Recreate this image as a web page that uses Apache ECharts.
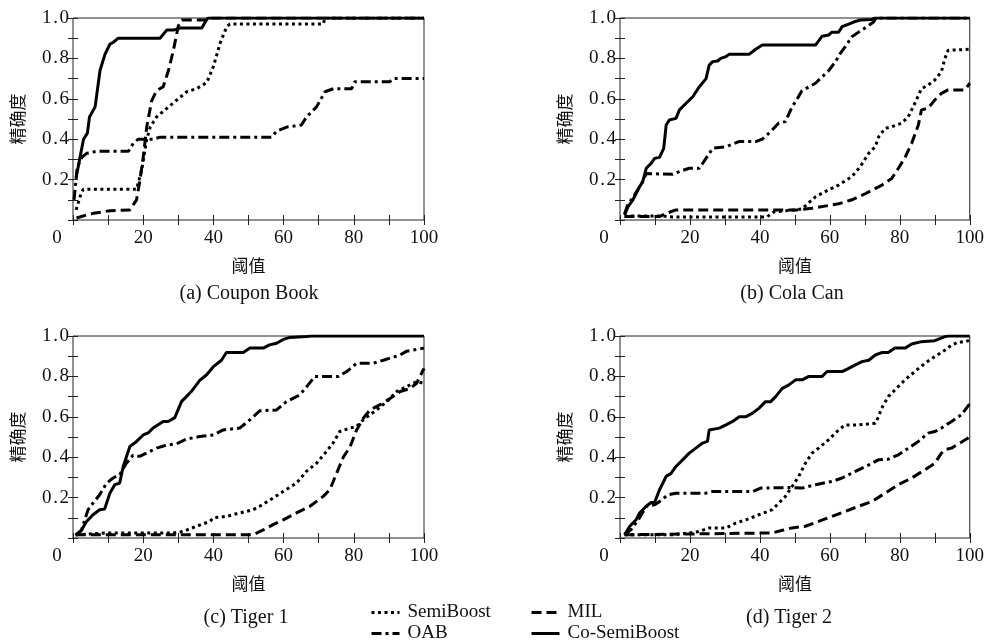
<!DOCTYPE html>
<html><head><meta charset="utf-8">
<script src="https://cdn.jsdelivr.net/npm/echarts@6/dist/echarts.min.js"></script>
<style>html,body{margin:0;padding:0;background:#fff}#c{width:987px;height:641px}</style>
</head><body><div id="c"></div>
<script>
// ---- text ----
const panelTitles = ['(a) Coupon Book', '(b) Cola Can', '(c) Tiger 1', '(d) Tiger 2'];
const seriesNames = ['SemiBoost', 'OAB', 'MIL', 'Co-SemiBoost'];
const xName = '阈值';
const yName = '精确度';
const xLabelValues = [0, 20, 40, 60, 80, 100];
const yLabelValues = [0.2, 0.4, 0.6, 0.8, 1.0];

// ---- data: [threshold, precision] ----
const couponSemi = [[0.9,0.05],[2,0.115],[2.9,0.152],[18.1,0.152],[19.6,0.25],[21,0.40],[22,0.46],[23.8,0.51],[28.6,0.58],[32.4,0.635],[35.2,0.65],[38.1,0.68],[40,0.76],[41.9,0.875],[43.8,0.957],[44.7,0.97],[71.3,0.97],[71.8,1.0],[100,1.0]];
const couponOAB = [[0.3,0.1],[1.2,0.26],[2.5,0.31],[3.9,0.33],[6.7,0.34],[15.8,0.34],[17.2,0.38],[18.6,0.40],[22.9,0.40],[24.8,0.41],[56.6,0.41],[58,0.44],[60.9,0.46],[65.1,0.47],[66.5,0.51],[69.4,0.56],[71.8,0.635],[74.2,0.65],[79.4,0.65],[80.3,0.685],[90.3,0.685],[91.3,0.70],[100,0.70]];
const couponMIL = [[1,0.01],[3.9,0.025],[5.8,0.033],[10.5,0.046],[16.2,0.05],[18.1,0.1],[19.1,0.2],[20,0.31],[21,0.46],[22.4,0.59],[23.8,0.64],[25.7,0.66],[27.2,0.74],[28.6,0.84],[30,0.96],[31,0.99],[38,0.99],[39,1.0],[100,1.0]];
const couponCo = [[0.9,0.21],[2,0.31],[3,0.40],[4.1,0.43],[4.7,0.51],[6.3,0.56],[7.7,0.74],[9.1,0.82],[10.5,0.87],[11.5,0.88],[12.9,0.90],[24.8,0.90],[26.7,0.94],[28.6,0.94],[30.5,0.95],[36.7,0.95],[38,0.99],[38.5,1.0],[100,1.0]];

const colaSemi = [[1.3,0.02],[12,0.02],[15,0.015],[42,0.015],[44,0.04],[50,0.05],[52,0.055],[55.9,0.115],[59.7,0.15],[62.5,0.173],[66.3,0.215],[68.7,0.264],[71.1,0.33],[73,0.363],[73.9,0.41],[75.8,0.454],[77.7,0.462],[80.5,0.479],[82.4,0.51],[84.3,0.578],[86.2,0.65],[88.1,0.668],[90,0.693],[91.9,0.734],[92.9,0.80],[93.8,0.84],[100,0.845]];
const colaOAB = [[1.3,0.03],[2.3,0.08],[3.7,0.11],[5.6,0.165],[6.5,0.19],[7.5,0.23],[15.1,0.226],[17,0.24],[19.8,0.256],[22.7,0.256],[26.5,0.355],[30.3,0.363],[34,0.388],[38.8,0.388],[40.7,0.40],[43.5,0.445],[45.4,0.48],[47.3,0.487],[49.2,0.56],[50.7,0.60],[52,0.64],[55.9,0.677],[57.3,0.70],[59.7,0.74],[61.6,0.784],[63,0.825],[64.4,0.858],[66.3,0.907],[68.2,0.93],[70.6,0.957],[72.5,0.98],[73.2,1.0],[100,1.0]];
const colaMIL = [[1.3,0.017],[11.3,0.017],[13.2,0.033],[16,0.05],[51.1,0.05],[54.9,0.058],[62.5,0.08],[66.3,0.1],[70.1,0.13],[74.9,0.173],[77.7,0.206],[79.6,0.256],[81.5,0.31],[83.4,0.38],[85.3,0.47],[86.2,0.545],[88.1,0.553],[90,0.594],[91.9,0.627],[93.8,0.644],[98.6,0.644],[100,0.677]];
const colaCo = [[1.3,0.025],[2.3,0.066],[3.7,0.1],[5.6,0.165],[6.5,0.19],[7.5,0.256],[8.9,0.28],[9.9,0.305],[11.3,0.31],[12.5,0.355],[13.2,0.47],[14.1,0.495],[16,0.503],[17,0.545],[18.9,0.578],[20.8,0.61],[22.7,0.66],[24.6,0.70],[25.5,0.767],[26.5,0.784],[27.9,0.787],[28.8,0.80],[30.3,0.809],[31.2,0.82],[36.9,0.82],[38.8,0.845],[40.7,0.866],[55.9,0.866],[57.8,0.91],[59.7,0.916],[60.6,0.93],[62.5,0.93],[63.5,0.957],[65.4,0.97],[66.8,0.98],[68.7,0.99],[72,0.993],[73,1.0],[100,1.0]];

const tiger1Semi = [[0.8,0.016],[9.5,0.025],[28.5,0.025],[31.4,0.033],[35.2,0.058],[39,0.082],[40,0.1],[43.7,0.107],[47.5,0.124],[51.3,0.14],[53.2,0.157],[57,0.198],[60.8,0.24],[63.7,0.272],[66.5,0.33],[69.4,0.37],[72.2,0.428],[74.1,0.47],[76,0.527],[78.9,0.544],[80.8,0.552],[82.7,0.585],[84.6,0.61],[86.5,0.634],[89.4,0.675],[92.2,0.725],[95.1,0.75],[97.9,0.774],[100,0.766]];
const tiger1OAB = [[0.8,0.016],[2.4,0.038],[4.3,0.14],[5.7,0.173],[7.6,0.214],[9.5,0.27],[11.4,0.297],[13.3,0.313],[15.2,0.37],[17.1,0.41],[19,0.404],[20.9,0.42],[23.8,0.445],[26.6,0.46],[29.5,0.466],[32.3,0.49],[36.1,0.502],[40,0.51],[42.8,0.535],[47.5,0.544],[50.4,0.585],[53.2,0.63],[58,0.634],[60.8,0.675],[64.6,0.708],[67,0.758],[68.9,0.80],[75.6,0.80],[78,0.824],[80.8,0.865],[85.6,0.865],[88.4,0.88],[93.2,0.906],[95.1,0.925],[100,0.94]];
const tiger1MIL = [[0.8,0.016],[51.3,0.016],[54.2,0.04],[57,0.066],[59.9,0.09],[63.7,0.124],[67.5,0.157],[71.3,0.206],[73.2,0.24],[75.1,0.32],[77,0.40],[78.9,0.45],[80.8,0.535],[82.7,0.593],[84.6,0.634],[87.5,0.66],[90.3,0.69],[93.2,0.725],[96,0.74],[97.9,0.766],[100,0.84]];
const tiger1Co = [[0.8,0.012],[2.4,0.038],[3.8,0.08],[5.7,0.115],[7.6,0.14],[9,0.143],[10.5,0.222],[11.9,0.264],[13.3,0.272],[14.3,0.354],[16.2,0.453],[18.1,0.478],[20,0.51],[21.4,0.52],[22.8,0.544],[25.7,0.577],[27.1,0.577],[29,0.596],[30.9,0.675],[32.3,0.70],[33.7,0.725],[36.1,0.78],[38,0.807],[40,0.848],[42.3,0.88],[43.7,0.918],[48.5,0.918],[50.4,0.94],[54.2,0.94],[56,0.956],[58,0.964],[59.9,0.983],[61.8,0.993],[66.5,0.997],[68,1.0],[100,1.0]];

const tiger2Semi = [[1.3,0.016],[15.1,0.016],[19.8,0.025],[22.7,0.033],[25.5,0.05],[30.3,0.05],[33.1,0.074],[36,0.09],[39.7,0.115],[43.5,0.14],[45.4,0.173],[47.3,0.206],[49.2,0.255],[51.1,0.305],[53,0.37],[54.9,0.42],[56.8,0.445],[59.6,0.486],[62.5,0.535],[64.4,0.56],[68.2,0.56],[73,0.568],[73.9,0.60],[74.8,0.642],[76.7,0.70],[78.6,0.733],[81.5,0.783],[84.3,0.824],[87.2,0.865],[90,0.898],[92.9,0.93],[94.8,0.955],[96.7,0.97],[98.6,0.97],[100,0.98]];
const tiger2OAB = [[1.3,0.016],[3.1,0.04],[5.6,0.1],[7.5,0.157],[9.9,0.165],[11.3,0.18],[13.7,0.214],[16,0.222],[24.6,0.222],[26.5,0.23],[37.9,0.23],[40.2,0.247],[49.2,0.25],[52.1,0.247],[55.9,0.264],[60.6,0.28],[63.5,0.297],[67.3,0.33],[71.1,0.362],[73.9,0.387],[76.7,0.39],[79.6,0.412],[82.5,0.445],[85.3,0.478],[88.1,0.519],[90,0.527],[91.9,0.544],[94.8,0.577],[97.6,0.61],[100,0.665]];
const tiger2MIL = [[1.3,0.016],[43.5,0.025],[46.4,0.038],[49.2,0.05],[53,0.058],[56.8,0.082],[60.6,0.107],[64.4,0.132],[68.2,0.157],[72,0.18],[75.8,0.222],[79.6,0.264],[83.4,0.297],[87.2,0.338],[90,0.37],[91.9,0.42],[92.9,0.437],[94.8,0.445],[97.2,0.47],[100,0.5]];
const tiger2Co = [[1.3,0.016],[2.8,0.058],[4.6,0.09],[5.6,0.124],[7.5,0.157],[8.9,0.176],[9.9,0.176],[11.3,0.239],[13.2,0.305],[14.6,0.32],[16,0.354],[17.9,0.387],[19.8,0.42],[21.7,0.445],[23.6,0.47],[25,0.478],[25.5,0.535],[28.4,0.544],[30.3,0.56],[32.2,0.577],[34.1,0.60],[36,0.60],[37.9,0.618],[39.7,0.642],[41.6,0.675],[43.1,0.675],[44.5,0.70],[46.4,0.741],[48.3,0.758],[50.2,0.783],[52.1,0.783],[54,0.80],[57.8,0.80],[59.2,0.824],[63.5,0.824],[65.4,0.84],[67.3,0.857],[69.2,0.873],[71.1,0.88],[73,0.906],[74.8,0.918],[76.7,0.918],[78.6,0.94],[81.5,0.94],[83.4,0.96],[86.2,0.972],[90,0.977],[92.9,0.997],[93.8,1.0],[100,1.0]];

const panelData = [
  [couponSemi, couponOAB, couponMIL, couponCo],
  [colaSemi, colaOAB, colaMIL, colaCo],
  [tiger1Semi, tiger1OAB, tiger1MIL, tiger1Co],
  [tiger2Semi, tiger2OAB, tiger2MIL, tiger2Co]
];

// ---- styling / layout ----
const SERIF = '"Liberation Serif", "DejaVu Serif", serif';
const CJK = '"Noto Sans CJK SC", sans-serif';
const lineTypes = [[3, 3.5], [10, 4, 3, 4], [10, 5], 'solid'];
const grids = [
  {left: 73, top: 18, width: 351, height: 202},
  {left: 620, top: 18, width: 352, height: 202},
  {left: 73, top: 336, width: 351, height: 202},
  {left: 620, top: 336, width: 352, height: 202}
];
const titlePos = [[249, 294], [792, 294], [246, 618], [789, 618]];

const chart = echarts.init(document.getElementById('c'), null, {renderer: 'canvas'});
const option = {
  animation: false,
  backgroundColor: '#fff',
  grid: grids.map(g => Object.assign({show: true, borderColor: '#222', borderWidth: 1, backgroundColor: 'transparent'}, g)),
  xAxis: [], yAxis: [], series: [], legend: [], graphic: []
};
const tickStyle = {show: true, inside: true, length: 5, lineStyle: {color: '#222', width: 1}};
const HAIR = '\u200A';
grids.forEach((g, i) => {
  option.xAxis.push({
    type: 'value', gridIndex: i, min: 0, max: 100, interval: 10, position: 'bottom',
    axisLine: {show: false}, splitLine: {show: false}, axisTick: tickStyle,
    name: xName, nameLocation: 'middle', nameGap: 37,
    nameTextStyle: {fontFamily: CJK, fontSize: 17, color: '#111'},
    axisLabel: {
      margin: 9, fontFamily: SERIF, fontSize: 19, color: '#111',
      formatter: v => v === 0 ? '{z|0}' : (xLabelValues.indexOf(v) >= 0 ? String(v) : ''),
      rich: {z: {fontFamily: SERIF, fontSize: 19, color: '#111', padding: [0, 32, 0, 0]}}
    }
  });
  option.xAxis.push({
    type: 'value', gridIndex: i, min: 0, max: 100, interval: 10, position: 'top',
    axisLine: {show: false}, splitLine: {show: false}, axisTick: tickStyle, axisLabel: {show: false}
  });
  option.yAxis.push({
    type: 'value', gridIndex: i, min: 0, max: 1, interval: 0.1, position: 'left',
    axisLine: {show: false}, splitLine: {show: false}, axisTick: tickStyle,
    name: yName, nameLocation: 'middle', nameGap: 47, nameRotate: 90,
    nameTextStyle: {fontFamily: CJK, fontSize: 17, color: '#111'},
    axisLabel: {
      margin: 4, fontFamily: SERIF, fontSize: 19, color: '#111',
      formatter: v => {
        const m = yLabelValues.find(t => Math.abs(t - v) < 1e-6);
        return m !== undefined ? m.toFixed(1).replace('.', HAIR + '.' + HAIR) : '';
      }
    }
  });
  option.yAxis.push({
    type: 'value', gridIndex: i, min: 0, max: 1, interval: 0.1, position: 'right',
    axisLine: {show: false}, splitLine: {show: false}, axisTick: tickStyle, axisLabel: {show: false}
  });
  panelData[i].forEach((d, k) => {
    option.series.push({
      type: 'line', name: seriesNames[k], data: d,
      xAxisIndex: 2 * i, yAxisIndex: 2 * i,
      symbol: 'none', showSymbol: false, clip: true,
      lineStyle: {color: '#000', width: 3, type: lineTypes[k], cap: 'butt'},
      itemStyle: {color: '#000'},
      z: 2 + (k === 3 ? 1 : 0)
    });
  });
  option.graphic.push({
    type: 'text', x: titlePos[i][0], y: titlePos[i][1],
    style: {text: panelTitles[i], font: '20px ' + SERIF, fill: '#111', textAlign: 'center', textVerticalAlign: 'middle'}
  });
});
const legendPos = [[370, 603], [370, 624], [530, 603], [530, 624]];
seriesNames.forEach((n, k) => {
  option.legend.push({
    data: [n], left: legendPos[k][0], top: legendPos[k][1], padding: 0,
    itemWidth: 28, itemHeight: 18, selectedMode: false, itemGap: 0,
    itemStyle: {opacity: 0},
    lineStyle: {color: '#000', width: 3, type: lineTypes[k], cap: 'butt'},
    textStyle: {fontFamily: SERIF, fontSize: 19, color: '#111', padding: [0, 0, 0, 3]}
  });
});
chart.setOption(option);
</script>
</body></html>
